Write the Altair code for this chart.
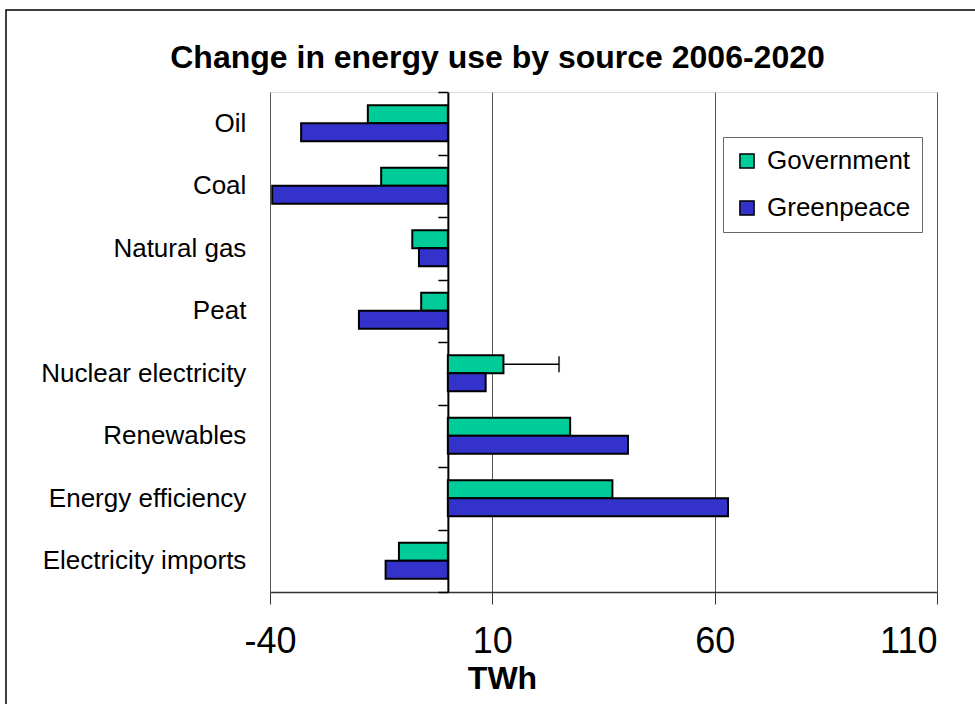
import altair as alt
import pandas as pd

categories = ["Oil", "Coal", "Natural gas", "Peat", "Nuclear electricity",
              "Renewables", "Energy efficiency", "Electricity imports"]
government = [-18, -15, -8, -6, 12.5, 27.5, 37, -11]
greenpeace = [-33, -39.5, -6.5, -20, 8.5, 40.5, 63, -14]
series = ["Government", "Greenpeace"]
colors = ["#00CC99", "#3333CC"]
x_ticks = [-40, 10, 60, 110]

err_category = ["Nuclear electricity"]
err_low = [12.5]
err_high = [25]

rows = []
for c, g, p in zip(categories, government, greenpeace):
    rows.append({"source": c, "series": "Government", "value": g})
    rows.append({"source": c, "series": "Greenpeace", "value": p})
df = pd.DataFrame(rows)
err_df = pd.DataFrame({"source": err_category, "series": ["Government"],
                       "lo": err_low, "hi": err_high})

FONT = "Liberation Sans"
W, H = 667, 500

y_enc = alt.Y("source:N", sort=categories, title=None,
              scale=alt.Scale(paddingInner=0, paddingOuter=0),
              axis=alt.Axis(orient="left", offset=-W * 40 / 150, tickBand="extent",
                            tickSize=10, tickColor="black", tickWidth=1.5,
                            domainColor="black", domainWidth=2,
                            labelPadding=192, labelFontSize=26, labelColor="black",
                            labelFont=FONT, labelLimit=400))
yoff_enc = alt.YOffset("series:N", sort=series,
                       scale=alt.Scale(paddingInner=0, paddingOuter=0.736))
x_scale = alt.Scale(domain=[-40, 110], nice=False, zero=False)

bars = alt.Chart(df).mark_bar(stroke="black", strokeWidth=2).encode(
    x=alt.X("value:Q", scale=x_scale,
            axis=alt.Axis(values=x_ticks, grid=True, gridColor="#555555", gridWidth=1,
                          tickSize=12, tickColor="#333333", domainColor="#333333",
                          domainWidth=1.5, labelFontSize=36, labelFont=FONT,
                          labelColor="black", labelPadding=20, labelFlush=False,
                          labelExpr="'' + datum.value",
                          labelAlign={"condition": {"test": "datum.value == 110",
                                                    "value": "right"},
                                      "value": "center"},
                          title="TWh", titleFont=FONT, titleFontSize=32,
                          titleFontWeight="bold", titleColor="black",
                          titleX=232, titleY=96, titleAlign="center",
                          titleBaseline="alphabetic")),
    x2=alt.X2(datum=0),
    y=y_enc,
    yOffset=yoff_enc,
    color=alt.Color("series:N", sort=series,
                    scale=alt.Scale(domain=series, range=colors),
                    legend=alt.Legend(title=None, orient="none", legendX=453, legendY=45,
                                      fillColor="white", strokeColor="#666666",
                                      padding=11, rowPadding=21, labelFontSize=26,
                                      labelFont=FONT, labelColor="black", labelOffset=7,
                                      symbolType="square", symbolSize=200,
                                      symbolStrokeColor="black", symbolStrokeWidth=1.5)),
)

err_line = alt.Chart(err_df).mark_rule(color="black", strokeWidth=1.5).encode(
    x=alt.X("lo:Q", scale=x_scale),
    x2="hi:Q",
    y=alt.Y("source:N", sort=categories),
    yOffset=alt.YOffset("series:N", sort=series),
)
err_cap = alt.Chart(err_df).mark_tick(color="black", thickness=2, size=16,
                                      orient="vertical").encode(
    x=alt.X("hi:Q", scale=x_scale),
    y=alt.Y("source:N", sort=categories),
    yOffset=alt.YOffset("series:N", sort=series),
)

frame = alt.Chart(alt.Data(values=[{}])).mark_rect(
    fill="transparent", stroke="black", strokeWidth=1.5).encode(
    x=alt.value(-264), x2=alt.value(710), y=alt.value(-82), y2=alt.value(620))

chart = alt.layer(frame, bars, err_line, err_cap).properties(
    width=W, height=H,
    title=alt.TitleParams("Change in energy use by source 2006-2020", font=FONT,
                          fontSize=32, fontWeight="bold", color="black",
                          anchor="middle", frame="group", dx=-106, offset=-91,
                          baseline="alphabetic"),
    autosize=alt.AutoSizeParams(type="none"),
    padding={"left": 270, "top": 92, "right": 38, "bottom": 112},
).configure_view(stroke="#888888", strokeWidth=2).configure(background="white")

chart.save("out.html", embed_options={"renderer": "svg", "actions": False})
